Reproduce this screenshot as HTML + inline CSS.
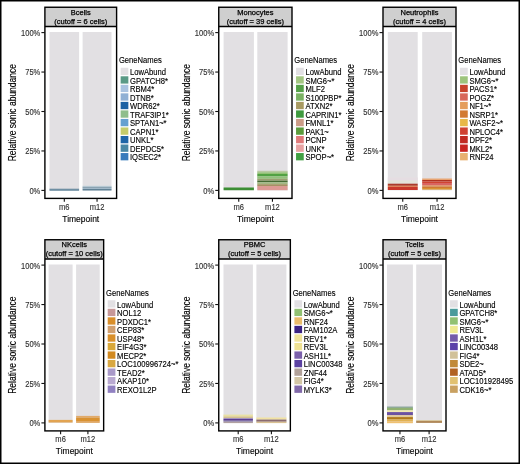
<!DOCTYPE html><html><head><meta charset="utf-8"><style>html,body{margin:0;padding:0;background:#fff;}svg{display:block;will-change:transform;}text{font-family:"Liberation Sans", sans-serif;}</style></head><body>
<svg width="520" height="464" viewBox="0 0 520 464">
<rect x="0" y="0" width="520" height="464" fill="#fff"/>
<clipPath id="c0"><rect x="44.9" y="7.25" width="71.7" height="19.2"/></clipPath>
<rect x="44.9" y="7.25" width="71.7" height="19.2" fill="#cfcfcf"/>
<g clip-path="url(#c0)">
<text transform="translate(80.75,14.7) scale(1,1)" font-size="7.5" fill="#000" stroke="#000" stroke-width="0.25" text-anchor="middle">Bcells</text>
<text transform="translate(80.75,23.85) scale(1,1)" font-size="7.5" fill="#000" stroke="#000" stroke-width="0.25" text-anchor="middle">(cutoff = 6 cells)</text>
</g>
<rect x="49.5" y="32" width="29.6" height="158.4" fill="#e2e0e3"/>
<rect x="49.5" y="188.7" width="29.6" height="2.1" fill="#6f8fa3"/>
<rect x="82.6" y="32" width="28.9" height="158.4" fill="#e2e0e3"/>
<rect x="82.6" y="185.8" width="28.9" height="1" fill="#c3d6e2"/>
<rect x="82.6" y="186.8" width="28.9" height="1" fill="#6f8a9c"/>
<rect x="82.6" y="187.8" width="28.9" height="1" fill="#a6c0d2"/>
<rect x="82.6" y="188.8" width="28.9" height="1.7" fill="#5f8094"/>
<rect x="44.9" y="7.25" width="71.7" height="191.15" fill="none" stroke="#000" stroke-width="1.4"/>
<line x1="44.9" y1="26.45" x2="116.6" y2="26.45" stroke="#000" stroke-width="1.4"/>
<line x1="41.4" y1="190.4" x2="44.9" y2="190.4" stroke="#111" stroke-width="1.1"/>
<text transform="translate(40.3,193.8) scale(1,1.1)" font-size="7.55" fill="#303030" stroke="#303030" stroke-width="0.12" text-anchor="end">0%</text>
<line x1="41.4" y1="150.95" x2="44.9" y2="150.95" stroke="#111" stroke-width="1.1"/>
<text transform="translate(40.3,154.35) scale(1,1.1)" font-size="7.55" fill="#303030" stroke="#303030" stroke-width="0.12" text-anchor="end">25%</text>
<line x1="41.4" y1="111.5" x2="44.9" y2="111.5" stroke="#111" stroke-width="1.1"/>
<text transform="translate(40.3,114.9) scale(1,1.1)" font-size="7.55" fill="#303030" stroke="#303030" stroke-width="0.12" text-anchor="end">50%</text>
<line x1="41.4" y1="72.05" x2="44.9" y2="72.05" stroke="#111" stroke-width="1.1"/>
<text transform="translate(40.3,75.45) scale(1,1.1)" font-size="7.55" fill="#303030" stroke="#303030" stroke-width="0.12" text-anchor="end">75%</text>
<line x1="41.4" y1="32.6" x2="44.9" y2="32.6" stroke="#111" stroke-width="1.1"/>
<text transform="translate(40.3,36) scale(1,1.1)" font-size="7.55" fill="#303030" stroke="#303030" stroke-width="0.12" text-anchor="end">100%</text>
<line x1="64.3" y1="198.4" x2="64.3" y2="201.7" stroke="#111" stroke-width="1.1"/>
<text transform="translate(64.3,209.8) scale(1,1.1)" font-size="7.55" fill="#303030" stroke="#303030" stroke-width="0.12" text-anchor="middle">m6</text>
<line x1="97.05" y1="198.4" x2="97.05" y2="201.7" stroke="#111" stroke-width="1.1"/>
<text transform="translate(97.05,209.8) scale(1,1.1)" font-size="7.55" fill="#303030" stroke="#303030" stroke-width="0.12" text-anchor="middle">m12</text>
<text transform="translate(80.75,221.8) scale(1,1.1)" font-size="8.5" fill="#000" stroke="#000" stroke-width="0.12" text-anchor="middle">Timepoint</text>
<text transform="translate(15.9,112.65) rotate(-90) scale(1,1.25)" font-size="8.5" fill="#000" stroke="#000" stroke-width="0.1" text-anchor="middle">Relative sonic abundance</text>
<text transform="translate(118.9,63.3) scale(1,1.1)" font-size="7.65" fill="#000" stroke="#000" stroke-width="0.12">GeneNames</text>
<rect x="120.65" y="67.75" width="7.7" height="7.3" fill="#e2e0e3"/>
<text transform="translate(130,75) scale(1,1.1)" font-size="7.65" fill="#000" stroke="#000" stroke-width="0.12">LowAbund</text>
<rect x="120.65" y="76.28" width="7.7" height="7.3" fill="#5a9a86"/>
<text transform="translate(130,83.53) scale(1,1.1)" font-size="7.65" fill="#000" stroke="#000" stroke-width="0.12">GPATCH8*</text>
<rect x="120.65" y="84.81" width="7.7" height="7.3" fill="#a9c3e0"/>
<text transform="translate(130,92.06) scale(1,1.1)" font-size="7.65" fill="#000" stroke="#000" stroke-width="0.12">RBM4*</text>
<rect x="120.65" y="93.34" width="7.7" height="7.3" fill="#8fb0d4"/>
<text transform="translate(130,100.59) scale(1,1.1)" font-size="7.65" fill="#000" stroke="#000" stroke-width="0.12">DTNB*</text>
<rect x="120.65" y="101.87" width="7.7" height="7.3" fill="#1d62a4"/>
<text transform="translate(130,109.12) scale(1,1.1)" font-size="7.65" fill="#000" stroke="#000" stroke-width="0.12">WDR62*</text>
<rect x="120.65" y="110.4" width="7.7" height="7.3" fill="#8fbe8c"/>
<text transform="translate(130,117.65) scale(1,1.1)" font-size="7.65" fill="#000" stroke="#000" stroke-width="0.12">TRAF3IP1*</text>
<rect x="120.65" y="118.93" width="7.7" height="7.3" fill="#66a0d0"/>
<text transform="translate(130,126.18) scale(1,1.1)" font-size="7.65" fill="#000" stroke="#000" stroke-width="0.12">SPTAN1~*</text>
<rect x="120.65" y="127.46" width="7.7" height="7.3" fill="#c5cc6b"/>
<text transform="translate(130,134.71) scale(1,1.1)" font-size="7.65" fill="#000" stroke="#000" stroke-width="0.12">CAPN1*</text>
<rect x="120.65" y="135.99" width="7.7" height="7.3" fill="#1f66a8"/>
<text transform="translate(130,143.24) scale(1,1.1)" font-size="7.65" fill="#000" stroke="#000" stroke-width="0.12">UNKL*</text>
<rect x="120.65" y="144.52" width="7.7" height="7.3" fill="#4a88a6"/>
<text transform="translate(130,151.77) scale(1,1.1)" font-size="7.65" fill="#000" stroke="#000" stroke-width="0.12">DEPDC5*</text>
<rect x="120.65" y="153.05" width="7.7" height="7.3" fill="#3a7cbc"/>
<text transform="translate(130,160.3) scale(1,1.1)" font-size="7.65" fill="#000" stroke="#000" stroke-width="0.12">IQSEC2*</text>
<clipPath id="c1"><rect x="218.75" y="7.25" width="73.25" height="19.2"/></clipPath>
<rect x="218.75" y="7.25" width="73.25" height="19.2" fill="#cfcfcf"/>
<g clip-path="url(#c1)">
<text transform="translate(255.38,14.7) scale(1,1)" font-size="7.5" fill="#000" stroke="#000" stroke-width="0.25" text-anchor="middle">Monocytes</text>
<text transform="translate(255.38,23.85) scale(1,1)" font-size="7.5" fill="#000" stroke="#000" stroke-width="0.25" text-anchor="middle">(cutoff = 39 cells)</text>
</g>
<rect x="223.6" y="32" width="30.3" height="158.4" fill="#e2e0e3"/>
<rect x="223.6" y="183.2" width="30.3" height="3.4" fill="#e5dce4"/>
<rect x="223.6" y="187.5" width="30.3" height="2.7" fill="#3d8d35"/>
<rect x="257.3" y="32" width="30.3" height="158.4" fill="#e2e0e3"/>
<rect x="257.3" y="170.8" width="30.3" height="1.5" fill="#b9c9a2"/>
<rect x="257.3" y="172.3" width="30.3" height="1.7" fill="#92c274"/>
<rect x="257.3" y="174" width="30.3" height="2.4" fill="#52a243"/>
<rect x="257.3" y="176.4" width="30.3" height="2.4" fill="#92c27a"/>
<rect x="257.3" y="178.8" width="30.3" height="1.9" fill="#9aa070"/>
<rect x="257.3" y="180.7" width="30.3" height="1.6" fill="#456b33"/>
<rect x="257.3" y="182.3" width="30.3" height="1.9" fill="#a2b982"/>
<rect x="257.3" y="184.2" width="30.3" height="1.8" fill="#a49263"/>
<rect x="257.3" y="186" width="30.3" height="4.2" fill="#dc9a94"/>
<rect x="218.75" y="7.25" width="73.25" height="191.15" fill="none" stroke="#000" stroke-width="1.4"/>
<line x1="218.75" y1="26.45" x2="292" y2="26.45" stroke="#000" stroke-width="1.4"/>
<line x1="215.25" y1="190.4" x2="218.75" y2="190.4" stroke="#111" stroke-width="1.1"/>
<text transform="translate(214.15,193.8) scale(1,1.1)" font-size="7.55" fill="#303030" stroke="#303030" stroke-width="0.12" text-anchor="end">0%</text>
<line x1="215.25" y1="150.95" x2="218.75" y2="150.95" stroke="#111" stroke-width="1.1"/>
<text transform="translate(214.15,154.35) scale(1,1.1)" font-size="7.55" fill="#303030" stroke="#303030" stroke-width="0.12" text-anchor="end">25%</text>
<line x1="215.25" y1="111.5" x2="218.75" y2="111.5" stroke="#111" stroke-width="1.1"/>
<text transform="translate(214.15,114.9) scale(1,1.1)" font-size="7.55" fill="#303030" stroke="#303030" stroke-width="0.12" text-anchor="end">50%</text>
<line x1="215.25" y1="72.05" x2="218.75" y2="72.05" stroke="#111" stroke-width="1.1"/>
<text transform="translate(214.15,75.45) scale(1,1.1)" font-size="7.55" fill="#303030" stroke="#303030" stroke-width="0.12" text-anchor="end">75%</text>
<line x1="215.25" y1="32.6" x2="218.75" y2="32.6" stroke="#111" stroke-width="1.1"/>
<text transform="translate(214.15,36) scale(1,1.1)" font-size="7.55" fill="#303030" stroke="#303030" stroke-width="0.12" text-anchor="end">100%</text>
<line x1="238.75" y1="198.4" x2="238.75" y2="201.7" stroke="#111" stroke-width="1.1"/>
<text transform="translate(238.75,209.8) scale(1,1.1)" font-size="7.55" fill="#303030" stroke="#303030" stroke-width="0.12" text-anchor="middle">m6</text>
<line x1="272.45" y1="198.4" x2="272.45" y2="201.7" stroke="#111" stroke-width="1.1"/>
<text transform="translate(272.45,209.8) scale(1,1.1)" font-size="7.55" fill="#303030" stroke="#303030" stroke-width="0.12" text-anchor="middle">m12</text>
<text transform="translate(255.38,221.8) scale(1,1.1)" font-size="8.5" fill="#000" stroke="#000" stroke-width="0.12" text-anchor="middle">Timepoint</text>
<text transform="translate(189.75,112.65) rotate(-90) scale(1,1.25)" font-size="8.5" fill="#000" stroke="#000" stroke-width="0.1" text-anchor="middle">Relative sonic abundance</text>
<text transform="translate(294.3,63.3) scale(1,1.1)" font-size="7.65" fill="#000" stroke="#000" stroke-width="0.12">GeneNames</text>
<rect x="296.05" y="67.75" width="7.7" height="7.3" fill="#e2e0e3"/>
<text transform="translate(305.4,75) scale(1,1.1)" font-size="7.65" fill="#000" stroke="#000" stroke-width="0.12">LowAbund</text>
<rect x="296.05" y="76.28" width="7.7" height="7.3" fill="#a3c682"/>
<text transform="translate(305.4,83.53) scale(1,1.1)" font-size="7.65" fill="#000" stroke="#000" stroke-width="0.12">SMG6~*</text>
<rect x="296.05" y="84.81" width="7.7" height="7.3" fill="#56a149"/>
<text transform="translate(305.4,92.06) scale(1,1.1)" font-size="7.65" fill="#000" stroke="#000" stroke-width="0.12">MLF2</text>
<rect x="296.05" y="93.34" width="7.7" height="7.3" fill="#7ab263"/>
<text transform="translate(305.4,100.59) scale(1,1.1)" font-size="7.65" fill="#000" stroke="#000" stroke-width="0.12">S100PBP*</text>
<rect x="296.05" y="101.87" width="7.7" height="7.3" fill="#a89a62"/>
<text transform="translate(305.4,109.12) scale(1,1.1)" font-size="7.65" fill="#000" stroke="#000" stroke-width="0.12">ATXN2*</text>
<rect x="296.05" y="110.4" width="7.7" height="7.3" fill="#3f9a3f"/>
<text transform="translate(305.4,117.65) scale(1,1.1)" font-size="7.65" fill="#000" stroke="#000" stroke-width="0.12">CAPRIN1*</text>
<rect x="296.05" y="118.93" width="7.7" height="7.3" fill="#cc9c88"/>
<text transform="translate(305.4,126.18) scale(1,1.1)" font-size="7.65" fill="#000" stroke="#000" stroke-width="0.12">FMNL1*</text>
<rect x="296.05" y="127.46" width="7.7" height="7.3" fill="#5b9b3c"/>
<text transform="translate(305.4,134.71) scale(1,1.1)" font-size="7.65" fill="#000" stroke="#000" stroke-width="0.12">PAK1~</text>
<rect x="296.05" y="135.99" width="7.7" height="7.3" fill="#e07a7a"/>
<text transform="translate(305.4,143.24) scale(1,1.1)" font-size="7.65" fill="#000" stroke="#000" stroke-width="0.12">PCNP</text>
<rect x="296.05" y="144.52" width="7.7" height="7.3" fill="#e9a3a3"/>
<text transform="translate(305.4,151.77) scale(1,1.1)" font-size="7.65" fill="#000" stroke="#000" stroke-width="0.12">UNK*</text>
<rect x="296.05" y="153.05" width="7.7" height="7.3" fill="#41a043"/>
<text transform="translate(305.4,160.3) scale(1,1.1)" font-size="7.65" fill="#000" stroke="#000" stroke-width="0.12">SPOP~*</text>
<clipPath id="c2"><rect x="383" y="7.25" width="73" height="19.2"/></clipPath>
<rect x="383" y="7.25" width="73" height="19.2" fill="#cfcfcf"/>
<g clip-path="url(#c2)">
<text transform="translate(419.5,14.7) scale(1,1)" font-size="7.5" fill="#000" stroke="#000" stroke-width="0.25" text-anchor="middle">Neutrophils</text>
<text transform="translate(419.5,23.85) scale(1,1)" font-size="7.5" fill="#000" stroke="#000" stroke-width="0.25" text-anchor="middle">(cutoff = 4 cells)</text>
</g>
<rect x="387.8" y="32" width="29.9" height="158.4" fill="#e2e0e3"/>
<rect x="387.8" y="177.5" width="29.9" height="3" fill="#e5dde2"/>
<rect x="387.8" y="180.5" width="29.9" height="3.2" fill="#e3e5da"/>
<rect x="387.8" y="183.7" width="29.9" height="2.1" fill="#aa3d2b"/>
<rect x="387.8" y="185.8" width="29.9" height="1.1" fill="#e08450"/>
<rect x="387.8" y="186.9" width="29.9" height="3.1" fill="#c9392a"/>
<rect x="422.2" y="32" width="29.7" height="158.4" fill="#e2e0e3"/>
<rect x="422.2" y="178.5" width="29.7" height="1.5" fill="#e8a472"/>
<rect x="422.2" y="180" width="29.7" height="1.5" fill="#b23322"/>
<rect x="422.2" y="181.5" width="29.7" height="1.5" fill="#d04432"/>
<rect x="422.2" y="183" width="29.7" height="2.4" fill="#d96462"/>
<rect x="422.2" y="185.4" width="29.7" height="1.1" fill="#e08a52"/>
<rect x="422.2" y="186.5" width="29.7" height="1.5" fill="#d07a32"/>
<rect x="422.2" y="188" width="29.7" height="1.6" fill="#d89232"/>
<rect x="383" y="7.25" width="73" height="191.15" fill="none" stroke="#000" stroke-width="1.4"/>
<line x1="383" y1="26.45" x2="456" y2="26.45" stroke="#000" stroke-width="1.4"/>
<line x1="379.5" y1="190.4" x2="383" y2="190.4" stroke="#111" stroke-width="1.1"/>
<text transform="translate(378.4,193.8) scale(1,1.1)" font-size="7.55" fill="#303030" stroke="#303030" stroke-width="0.12" text-anchor="end">0%</text>
<line x1="379.5" y1="150.95" x2="383" y2="150.95" stroke="#111" stroke-width="1.1"/>
<text transform="translate(378.4,154.35) scale(1,1.1)" font-size="7.55" fill="#303030" stroke="#303030" stroke-width="0.12" text-anchor="end">25%</text>
<line x1="379.5" y1="111.5" x2="383" y2="111.5" stroke="#111" stroke-width="1.1"/>
<text transform="translate(378.4,114.9) scale(1,1.1)" font-size="7.55" fill="#303030" stroke="#303030" stroke-width="0.12" text-anchor="end">50%</text>
<line x1="379.5" y1="72.05" x2="383" y2="72.05" stroke="#111" stroke-width="1.1"/>
<text transform="translate(378.4,75.45) scale(1,1.1)" font-size="7.55" fill="#303030" stroke="#303030" stroke-width="0.12" text-anchor="end">75%</text>
<line x1="379.5" y1="32.6" x2="383" y2="32.6" stroke="#111" stroke-width="1.1"/>
<text transform="translate(378.4,36) scale(1,1.1)" font-size="7.55" fill="#303030" stroke="#303030" stroke-width="0.12" text-anchor="end">100%</text>
<line x1="402.75" y1="198.4" x2="402.75" y2="201.7" stroke="#111" stroke-width="1.1"/>
<text transform="translate(402.75,209.8) scale(1,1.1)" font-size="7.55" fill="#303030" stroke="#303030" stroke-width="0.12" text-anchor="middle">m6</text>
<line x1="437.05" y1="198.4" x2="437.05" y2="201.7" stroke="#111" stroke-width="1.1"/>
<text transform="translate(437.05,209.8) scale(1,1.1)" font-size="7.55" fill="#303030" stroke="#303030" stroke-width="0.12" text-anchor="middle">m12</text>
<text transform="translate(419.5,221.8) scale(1,1.1)" font-size="8.5" fill="#000" stroke="#000" stroke-width="0.12" text-anchor="middle">Timepoint</text>
<text transform="translate(354,112.65) rotate(-90) scale(1,1.25)" font-size="8.5" fill="#000" stroke="#000" stroke-width="0.1" text-anchor="middle">Relative sonic abundance</text>
<text transform="translate(458.3,63.3) scale(1,1.1)" font-size="7.65" fill="#000" stroke="#000" stroke-width="0.12">GeneNames</text>
<rect x="460.05" y="67.75" width="7.7" height="7.3" fill="#e2e0e3"/>
<text transform="translate(469.4,75) scale(1,1.1)" font-size="7.65" fill="#000" stroke="#000" stroke-width="0.12">LowAbund</text>
<rect x="460.05" y="76.28" width="7.7" height="7.3" fill="#9dc47c"/>
<text transform="translate(469.4,83.53) scale(1,1.1)" font-size="7.65" fill="#000" stroke="#000" stroke-width="0.12">SMG6~*</text>
<rect x="460.05" y="84.81" width="7.7" height="7.3" fill="#c8432b"/>
<text transform="translate(469.4,92.06) scale(1,1.1)" font-size="7.65" fill="#000" stroke="#000" stroke-width="0.12">PACS1*</text>
<rect x="460.05" y="93.34" width="7.7" height="7.3" fill="#d8685a"/>
<text transform="translate(469.4,100.59) scale(1,1.1)" font-size="7.65" fill="#000" stroke="#000" stroke-width="0.12">POGZ*</text>
<rect x="460.05" y="101.87" width="7.7" height="7.3" fill="#e59d5c"/>
<text transform="translate(469.4,109.12) scale(1,1.1)" font-size="7.65" fill="#000" stroke="#000" stroke-width="0.12">NF1~*</text>
<rect x="460.05" y="110.4" width="7.7" height="7.3" fill="#d27a32"/>
<text transform="translate(469.4,117.65) scale(1,1.1)" font-size="7.65" fill="#000" stroke="#000" stroke-width="0.12">NSRP1*</text>
<rect x="460.05" y="118.93" width="7.7" height="7.3" fill="#e8b848"/>
<text transform="translate(469.4,126.18) scale(1,1.1)" font-size="7.65" fill="#000" stroke="#000" stroke-width="0.12">WASF2~*</text>
<rect x="460.05" y="127.46" width="7.7" height="7.3" fill="#d04232"/>
<text transform="translate(469.4,134.71) scale(1,1.1)" font-size="7.65" fill="#000" stroke="#000" stroke-width="0.12">NPLOC4*</text>
<rect x="460.05" y="135.99" width="7.7" height="7.3" fill="#c12a22"/>
<text transform="translate(469.4,143.24) scale(1,1.1)" font-size="7.65" fill="#000" stroke="#000" stroke-width="0.12">DPF2*</text>
<rect x="460.05" y="144.52" width="7.7" height="7.3" fill="#c8231f"/>
<text transform="translate(469.4,151.77) scale(1,1.1)" font-size="7.65" fill="#000" stroke="#000" stroke-width="0.12">MKL2*</text>
<rect x="460.05" y="153.05" width="7.7" height="7.3" fill="#e8b070"/>
<text transform="translate(469.4,160.3) scale(1,1.1)" font-size="7.65" fill="#000" stroke="#000" stroke-width="0.12">RNF24</text>
<clipPath id="c3"><rect x="44.9" y="239.75" width="58.75" height="19.2"/></clipPath>
<rect x="44.9" y="239.75" width="58.75" height="19.2" fill="#cfcfcf"/>
<g clip-path="url(#c3)">
<text transform="translate(74.28,247.2) scale(1,1)" font-size="7.5" fill="#000" stroke="#000" stroke-width="0.25" text-anchor="middle">NKcells</text>
<text transform="translate(74.28,256.35) scale(1,1)" font-size="7.5" fill="#000" stroke="#000" stroke-width="0.25" text-anchor="middle">(cutoff = 10 cells)</text>
</g>
<rect x="48.6" y="264.5" width="24" height="158.4" fill="#e2e0e3"/>
<rect x="48.6" y="419.9" width="24" height="2.6" fill="#e2a452"/>
<rect x="76.1" y="264.5" width="23.6" height="158.4" fill="#e2e0e3"/>
<rect x="76.1" y="415.9" width="23.6" height="1.7" fill="#e1aa6a"/>
<rect x="76.1" y="417.6" width="23.6" height="3.5" fill="#d99232"/>
<rect x="76.1" y="421.1" width="23.6" height="1.7" fill="#e2a458"/>
<rect x="44.9" y="239.75" width="58.75" height="191.15" fill="none" stroke="#000" stroke-width="1.4"/>
<line x1="44.9" y1="258.95" x2="103.65" y2="258.95" stroke="#000" stroke-width="1.4"/>
<line x1="41.4" y1="422.9" x2="44.9" y2="422.9" stroke="#111" stroke-width="1.1"/>
<text transform="translate(40.3,426.3) scale(1,1.1)" font-size="7.55" fill="#303030" stroke="#303030" stroke-width="0.12" text-anchor="end">0%</text>
<line x1="41.4" y1="383.45" x2="44.9" y2="383.45" stroke="#111" stroke-width="1.1"/>
<text transform="translate(40.3,386.85) scale(1,1.1)" font-size="7.55" fill="#303030" stroke="#303030" stroke-width="0.12" text-anchor="end">25%</text>
<line x1="41.4" y1="344" x2="44.9" y2="344" stroke="#111" stroke-width="1.1"/>
<text transform="translate(40.3,347.4) scale(1,1.1)" font-size="7.55" fill="#303030" stroke="#303030" stroke-width="0.12" text-anchor="end">50%</text>
<line x1="41.4" y1="304.55" x2="44.9" y2="304.55" stroke="#111" stroke-width="1.1"/>
<text transform="translate(40.3,307.95) scale(1,1.1)" font-size="7.55" fill="#303030" stroke="#303030" stroke-width="0.12" text-anchor="end">75%</text>
<line x1="41.4" y1="265.1" x2="44.9" y2="265.1" stroke="#111" stroke-width="1.1"/>
<text transform="translate(40.3,268.5) scale(1,1.1)" font-size="7.55" fill="#303030" stroke="#303030" stroke-width="0.12" text-anchor="end">100%</text>
<line x1="60.6" y1="430.9" x2="60.6" y2="434.2" stroke="#111" stroke-width="1.1"/>
<text transform="translate(60.6,442.3) scale(1,1.1)" font-size="7.55" fill="#303030" stroke="#303030" stroke-width="0.12" text-anchor="middle">m6</text>
<line x1="87.9" y1="430.9" x2="87.9" y2="434.2" stroke="#111" stroke-width="1.1"/>
<text transform="translate(87.9,442.3) scale(1,1.1)" font-size="7.55" fill="#303030" stroke="#303030" stroke-width="0.12" text-anchor="middle">m12</text>
<text transform="translate(74.28,454.3) scale(1,1.1)" font-size="8.5" fill="#000" stroke="#000" stroke-width="0.12" text-anchor="middle">Timepoint</text>
<text transform="translate(15.9,345.15) rotate(-90) scale(1,1.25)" font-size="8.5" fill="#000" stroke="#000" stroke-width="0.1" text-anchor="middle">Relative sonic abundance</text>
<text transform="translate(105.95,295.8) scale(1,1.1)" font-size="7.65" fill="#000" stroke="#000" stroke-width="0.12">GeneNames</text>
<rect x="107.7" y="300.25" width="7.7" height="7.3" fill="#e2e0e3"/>
<text transform="translate(117.05,307.5) scale(1,1.1)" font-size="7.65" fill="#000" stroke="#000" stroke-width="0.12">LowAbund</text>
<rect x="107.7" y="308.78" width="7.7" height="7.3" fill="#c79899"/>
<text transform="translate(117.05,316.03) scale(1,1.1)" font-size="7.65" fill="#000" stroke="#000" stroke-width="0.12">NOL12</text>
<rect x="107.7" y="317.31" width="7.7" height="7.3" fill="#d98f2b"/>
<text transform="translate(117.05,324.56) scale(1,1.1)" font-size="7.65" fill="#000" stroke="#000" stroke-width="0.12">PDXDC1*</text>
<rect x="107.7" y="325.84" width="7.7" height="7.3" fill="#d1a070"/>
<text transform="translate(117.05,333.09) scale(1,1.1)" font-size="7.65" fill="#000" stroke="#000" stroke-width="0.12">CEP83*</text>
<rect x="107.7" y="334.37" width="7.7" height="7.3" fill="#d9902b"/>
<text transform="translate(117.05,341.62) scale(1,1.1)" font-size="7.65" fill="#000" stroke="#000" stroke-width="0.12">USP48*</text>
<rect x="107.7" y="342.9" width="7.7" height="7.3" fill="#d9a83a"/>
<text transform="translate(117.05,350.15) scale(1,1.1)" font-size="7.65" fill="#000" stroke="#000" stroke-width="0.12">EIF4G3*</text>
<rect x="107.7" y="351.43" width="7.7" height="7.3" fill="#d1891f"/>
<text transform="translate(117.05,358.68) scale(1,1.1)" font-size="7.65" fill="#000" stroke="#000" stroke-width="0.12">MECP2*</text>
<rect x="107.7" y="359.96" width="7.7" height="7.3" fill="#d9a842"/>
<text transform="translate(117.05,367.21) scale(1,1.1)" font-size="7.65" fill="#000" stroke="#000" stroke-width="0.12">LOC100996724~*</text>
<rect x="107.7" y="368.49" width="7.7" height="7.3" fill="#a999c9"/>
<text transform="translate(117.05,375.74) scale(1,1.1)" font-size="7.65" fill="#000" stroke="#000" stroke-width="0.12">TEAD2*</text>
<rect x="107.7" y="377.02" width="7.7" height="7.3" fill="#b9a9d1"/>
<text transform="translate(117.05,384.27) scale(1,1.1)" font-size="7.65" fill="#000" stroke="#000" stroke-width="0.12">AKAP10*</text>
<rect x="107.7" y="385.55" width="7.7" height="7.3" fill="#9181c1"/>
<text transform="translate(117.05,392.8) scale(1,1.1)" font-size="7.65" fill="#000" stroke="#000" stroke-width="0.12">REXO1L2P</text>
<clipPath id="c4"><rect x="218.75" y="239.75" width="71.6" height="19.2"/></clipPath>
<rect x="218.75" y="239.75" width="71.6" height="19.2" fill="#cfcfcf"/>
<g clip-path="url(#c4)">
<text transform="translate(254.55,247.2) scale(1,1)" font-size="7.5" fill="#000" stroke="#000" stroke-width="0.25" text-anchor="middle">PBMC</text>
<text transform="translate(254.55,256.35) scale(1,1)" font-size="7.5" fill="#000" stroke="#000" stroke-width="0.25" text-anchor="middle">(cutoff = 5 cells)</text>
</g>
<rect x="223.5" y="264.5" width="29.4" height="158.4" fill="#e2e0e3"/>
<rect x="223.5" y="414.6" width="29.4" height="1.9" fill="#e9e1a2"/>
<rect x="223.5" y="416.5" width="29.4" height="1.4" fill="#d9c182"/>
<rect x="223.5" y="417.9" width="29.4" height="1" fill="#a898c0"/>
<rect x="223.5" y="418.9" width="29.4" height="1.8" fill="#5b3d91"/>
<rect x="223.5" y="420.7" width="29.4" height="1" fill="#8171a9"/>
<rect x="223.5" y="421.7" width="29.4" height="1.4" fill="#b1a1a1"/>
<rect x="256.4" y="264.5" width="30" height="158.4" fill="#e2e0e3"/>
<rect x="256.4" y="417.5" width="30" height="2.1" fill="#f0e1a2"/>
<rect x="256.4" y="419.6" width="30" height="2.1" fill="#8b6b71"/>
<rect x="256.4" y="421.7" width="30" height="1.4" fill="#d9c192"/>
<rect x="218.75" y="239.75" width="71.6" height="191.15" fill="none" stroke="#000" stroke-width="1.4"/>
<line x1="218.75" y1="258.95" x2="290.35" y2="258.95" stroke="#000" stroke-width="1.4"/>
<line x1="215.25" y1="422.9" x2="218.75" y2="422.9" stroke="#111" stroke-width="1.1"/>
<text transform="translate(214.15,426.3) scale(1,1.1)" font-size="7.55" fill="#303030" stroke="#303030" stroke-width="0.12" text-anchor="end">0%</text>
<line x1="215.25" y1="383.45" x2="218.75" y2="383.45" stroke="#111" stroke-width="1.1"/>
<text transform="translate(214.15,386.85) scale(1,1.1)" font-size="7.55" fill="#303030" stroke="#303030" stroke-width="0.12" text-anchor="end">25%</text>
<line x1="215.25" y1="344" x2="218.75" y2="344" stroke="#111" stroke-width="1.1"/>
<text transform="translate(214.15,347.4) scale(1,1.1)" font-size="7.55" fill="#303030" stroke="#303030" stroke-width="0.12" text-anchor="end">50%</text>
<line x1="215.25" y1="304.55" x2="218.75" y2="304.55" stroke="#111" stroke-width="1.1"/>
<text transform="translate(214.15,307.95) scale(1,1.1)" font-size="7.55" fill="#303030" stroke="#303030" stroke-width="0.12" text-anchor="end">75%</text>
<line x1="215.25" y1="265.1" x2="218.75" y2="265.1" stroke="#111" stroke-width="1.1"/>
<text transform="translate(214.15,268.5) scale(1,1.1)" font-size="7.55" fill="#303030" stroke="#303030" stroke-width="0.12" text-anchor="end">100%</text>
<line x1="238.2" y1="430.9" x2="238.2" y2="434.2" stroke="#111" stroke-width="1.1"/>
<text transform="translate(238.2,442.3) scale(1,1.1)" font-size="7.55" fill="#303030" stroke="#303030" stroke-width="0.12" text-anchor="middle">m6</text>
<line x1="271.4" y1="430.9" x2="271.4" y2="434.2" stroke="#111" stroke-width="1.1"/>
<text transform="translate(271.4,442.3) scale(1,1.1)" font-size="7.55" fill="#303030" stroke="#303030" stroke-width="0.12" text-anchor="middle">m12</text>
<text transform="translate(254.55,454.3) scale(1,1.1)" font-size="8.5" fill="#000" stroke="#000" stroke-width="0.12" text-anchor="middle">Timepoint</text>
<text transform="translate(189.75,345.15) rotate(-90) scale(1,1.25)" font-size="8.5" fill="#000" stroke="#000" stroke-width="0.1" text-anchor="middle">Relative sonic abundance</text>
<text transform="translate(292.65,295.8) scale(1,1.1)" font-size="7.65" fill="#000" stroke="#000" stroke-width="0.12">GeneNames</text>
<rect x="294.4" y="300.25" width="7.7" height="7.3" fill="#e2e0e3"/>
<text transform="translate(303.75,307.5) scale(1,1.1)" font-size="7.65" fill="#000" stroke="#000" stroke-width="0.12">LowAbund</text>
<rect x="294.4" y="308.78" width="7.7" height="7.3" fill="#91c172"/>
<text transform="translate(303.75,316.03) scale(1,1.1)" font-size="7.65" fill="#000" stroke="#000" stroke-width="0.12">SMG6~*</text>
<rect x="294.4" y="317.31" width="7.7" height="7.3" fill="#eabb6a"/>
<text transform="translate(303.75,324.56) scale(1,1.1)" font-size="7.65" fill="#000" stroke="#000" stroke-width="0.12">RNF24</text>
<rect x="294.4" y="325.84" width="7.7" height="7.3" fill="#3b2283"/>
<text transform="translate(303.75,333.09) scale(1,1.1)" font-size="7.65" fill="#000" stroke="#000" stroke-width="0.12">FAM102A</text>
<rect x="294.4" y="334.37" width="7.7" height="7.3" fill="#f0e398"/>
<text transform="translate(303.75,341.62) scale(1,1.1)" font-size="7.65" fill="#000" stroke="#000" stroke-width="0.12">REV1*</text>
<rect x="294.4" y="342.9" width="7.7" height="7.3" fill="#efe192"/>
<text transform="translate(303.75,350.15) scale(1,1.1)" font-size="7.65" fill="#000" stroke="#000" stroke-width="0.12">REV3L</text>
<rect x="294.4" y="351.43" width="7.7" height="7.3" fill="#7b60ab"/>
<text transform="translate(303.75,358.68) scale(1,1.1)" font-size="7.65" fill="#000" stroke="#000" stroke-width="0.12">ASH1L*</text>
<rect x="294.4" y="359.96" width="7.7" height="7.3" fill="#5b41a1"/>
<text transform="translate(303.75,367.21) scale(1,1.1)" font-size="7.65" fill="#000" stroke="#000" stroke-width="0.12">LINC00348</text>
<rect x="294.4" y="368.49" width="7.7" height="7.3" fill="#b1a199"/>
<text transform="translate(303.75,375.74) scale(1,1.1)" font-size="7.65" fill="#000" stroke="#000" stroke-width="0.12">ZNF44</text>
<rect x="294.4" y="377.02" width="7.7" height="7.3" fill="#d3c6a5"/>
<text transform="translate(303.75,384.27) scale(1,1.1)" font-size="7.65" fill="#000" stroke="#000" stroke-width="0.12">FIG4*</text>
<rect x="294.4" y="385.55" width="7.7" height="7.3" fill="#8169a9"/>
<text transform="translate(303.75,392.8) scale(1,1.1)" font-size="7.65" fill="#000" stroke="#000" stroke-width="0.12">MYLK3*</text>
<clipPath id="c5"><rect x="383" y="239.75" width="63" height="19.2"/></clipPath>
<rect x="383" y="239.75" width="63" height="19.2" fill="#cfcfcf"/>
<g clip-path="url(#c5)">
<text transform="translate(414.5,247.2) scale(1,1)" font-size="7.5" fill="#000" stroke="#000" stroke-width="0.25" text-anchor="middle">Tcells</text>
<text transform="translate(414.5,256.35) scale(1,1)" font-size="7.5" fill="#000" stroke="#000" stroke-width="0.25" text-anchor="middle">(cutoff = 5 cells)</text>
</g>
<rect x="387" y="264.5" width="25.9" height="158.4" fill="#e2e0e3"/>
<rect x="387" y="406.6" width="25.9" height="1.2" fill="#7b9b91"/>
<rect x="387" y="407.8" width="25.9" height="2.5" fill="#91b171"/>
<rect x="387" y="410.3" width="25.9" height="1.8" fill="#f0e9b1"/>
<rect x="387" y="412.1" width="25.9" height="3.1" fill="#6b51a1"/>
<rect x="387" y="415.2" width="25.9" height="1.9" fill="#e1c999"/>
<rect x="387" y="417.1" width="25.9" height="2.4" fill="#b17919"/>
<rect x="387" y="419.5" width="25.9" height="1.9" fill="#e1b151"/>
<rect x="387" y="421.4" width="25.9" height="1.8" fill="#f0c171"/>
<rect x="416.2" y="264.5" width="25.8" height="158.4" fill="#e2e0e3"/>
<rect x="416.2" y="420.1" width="25.8" height="0.6" fill="#f0e6a8"/>
<rect x="416.2" y="420.7" width="25.8" height="2.2" fill="#b18959"/>
<rect x="383" y="239.75" width="63" height="191.15" fill="none" stroke="#000" stroke-width="1.4"/>
<line x1="383" y1="258.95" x2="446" y2="258.95" stroke="#000" stroke-width="1.4"/>
<line x1="379.5" y1="422.9" x2="383" y2="422.9" stroke="#111" stroke-width="1.1"/>
<text transform="translate(378.4,426.3) scale(1,1.1)" font-size="7.55" fill="#303030" stroke="#303030" stroke-width="0.12" text-anchor="end">0%</text>
<line x1="379.5" y1="383.45" x2="383" y2="383.45" stroke="#111" stroke-width="1.1"/>
<text transform="translate(378.4,386.85) scale(1,1.1)" font-size="7.55" fill="#303030" stroke="#303030" stroke-width="0.12" text-anchor="end">25%</text>
<line x1="379.5" y1="344" x2="383" y2="344" stroke="#111" stroke-width="1.1"/>
<text transform="translate(378.4,347.4) scale(1,1.1)" font-size="7.55" fill="#303030" stroke="#303030" stroke-width="0.12" text-anchor="end">50%</text>
<line x1="379.5" y1="304.55" x2="383" y2="304.55" stroke="#111" stroke-width="1.1"/>
<text transform="translate(378.4,307.95) scale(1,1.1)" font-size="7.55" fill="#303030" stroke="#303030" stroke-width="0.12" text-anchor="end">75%</text>
<line x1="379.5" y1="265.1" x2="383" y2="265.1" stroke="#111" stroke-width="1.1"/>
<text transform="translate(378.4,268.5) scale(1,1.1)" font-size="7.55" fill="#303030" stroke="#303030" stroke-width="0.12" text-anchor="end">100%</text>
<line x1="399.95" y1="430.9" x2="399.95" y2="434.2" stroke="#111" stroke-width="1.1"/>
<text transform="translate(399.95,442.3) scale(1,1.1)" font-size="7.55" fill="#303030" stroke="#303030" stroke-width="0.12" text-anchor="middle">m6</text>
<line x1="429.1" y1="430.9" x2="429.1" y2="434.2" stroke="#111" stroke-width="1.1"/>
<text transform="translate(429.1,442.3) scale(1,1.1)" font-size="7.55" fill="#303030" stroke="#303030" stroke-width="0.12" text-anchor="middle">m12</text>
<text transform="translate(414.5,454.3) scale(1,1.1)" font-size="8.5" fill="#000" stroke="#000" stroke-width="0.12" text-anchor="middle">Timepoint</text>
<text transform="translate(354,345.15) rotate(-90) scale(1,1.25)" font-size="8.5" fill="#000" stroke="#000" stroke-width="0.1" text-anchor="middle">Relative sonic abundance</text>
<text transform="translate(448.3,295.8) scale(1,1.1)" font-size="7.65" fill="#000" stroke="#000" stroke-width="0.12">GeneNames</text>
<rect x="450.05" y="300.25" width="7.7" height="7.3" fill="#e2e0e3"/>
<text transform="translate(459.4,307.5) scale(1,1.1)" font-size="7.65" fill="#000" stroke="#000" stroke-width="0.12">LowAbund</text>
<rect x="450.05" y="308.78" width="7.7" height="7.3" fill="#4b9b9b"/>
<text transform="translate(459.4,316.03) scale(1,1.1)" font-size="7.65" fill="#000" stroke="#000" stroke-width="0.12">GPATCH8*</text>
<rect x="450.05" y="317.31" width="7.7" height="7.3" fill="#91c172"/>
<text transform="translate(459.4,324.56) scale(1,1.1)" font-size="7.65" fill="#000" stroke="#000" stroke-width="0.12">SMG6~*</text>
<rect x="450.05" y="325.84" width="7.7" height="7.3" fill="#efe992"/>
<text transform="translate(459.4,333.09) scale(1,1.1)" font-size="7.65" fill="#000" stroke="#000" stroke-width="0.12">REV3L</text>
<rect x="450.05" y="334.37" width="7.7" height="7.3" fill="#735aa9"/>
<text transform="translate(459.4,341.62) scale(1,1.1)" font-size="7.65" fill="#000" stroke="#000" stroke-width="0.12">ASH1L*</text>
<rect x="450.05" y="342.9" width="7.7" height="7.3" fill="#5b41a9"/>
<text transform="translate(459.4,350.15) scale(1,1.1)" font-size="7.65" fill="#000" stroke="#000" stroke-width="0.12">LINC00348</text>
<rect x="450.05" y="351.43" width="7.7" height="7.3" fill="#d1c199"/>
<text transform="translate(459.4,358.68) scale(1,1.1)" font-size="7.65" fill="#000" stroke="#000" stroke-width="0.12">FIG4*</text>
<rect x="450.05" y="359.96" width="7.7" height="7.3" fill="#c18939"/>
<text transform="translate(459.4,367.21) scale(1,1.1)" font-size="7.65" fill="#000" stroke="#000" stroke-width="0.12">SDE2~</text>
<rect x="450.05" y="368.49" width="7.7" height="7.3" fill="#b16121"/>
<text transform="translate(459.4,375.74) scale(1,1.1)" font-size="7.65" fill="#000" stroke="#000" stroke-width="0.12">ATAD5*</text>
<rect x="450.05" y="377.02" width="7.7" height="7.3" fill="#e1c171"/>
<text transform="translate(459.4,384.27) scale(1,1.1)" font-size="7.65" fill="#000" stroke="#000" stroke-width="0.12">LOC101928495</text>
<rect x="450.05" y="385.55" width="7.7" height="7.3" fill="#c9a161"/>
<text transform="translate(459.4,392.8) scale(1,1.1)" font-size="7.65" fill="#000" stroke="#000" stroke-width="0.12">CDK16~*</text>
<rect x="0.75" y="0.75" width="518.5" height="462.5" fill="none" stroke="#000" stroke-width="1.5"/>
</svg></body></html>
